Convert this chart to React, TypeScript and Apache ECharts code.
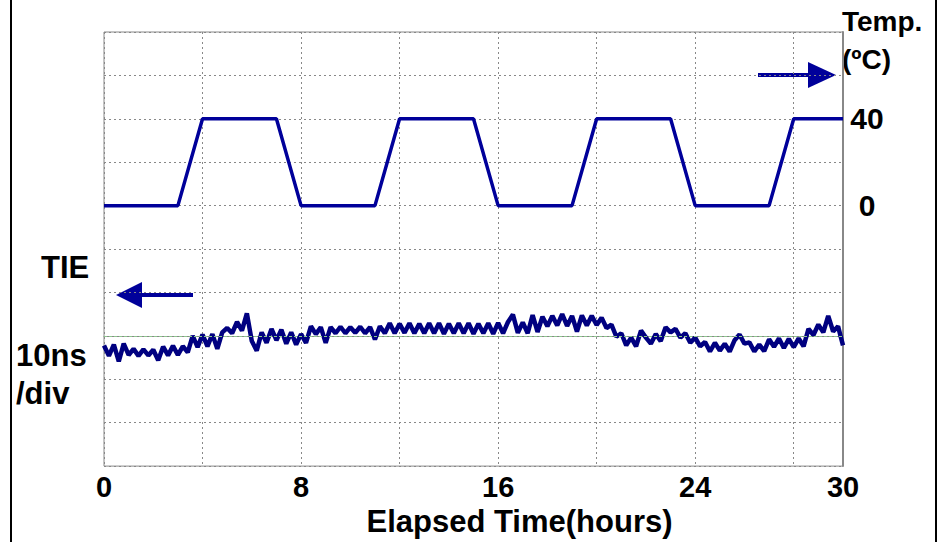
import React, { useEffect, useRef } from "react";
import * as echarts from "echarts";

// Temperature profile (right axis, °C) vs elapsed time (hours)
const tempTimes = [0, 3, 4, 7, 8, 11, 12, 15, 16, 19, 20, 23, 24, 27, 28, 30];
const tempValues = [0, 0, 40, 40, 0, 0, 40, 40, 0, 0, 40, 40, 0, 0, 40, 40];

// TIE trace (left axis, ns), sampled every 0.2 h
const TIE_STEP = 0.2;
const tieValues = [
  -2.2, -4.6, -2.0, -5.9, -1.8, -4.4, -3.0, -4.6, -3.1, -4.5,
  -3.2, -5.6, -2.5, -4.5, -2.3, -4.4, -2.4, -3.8, 0.0, -2.6,
  0.3, -2.4, 0.4, -3.0, 0.8, 1.8, 0.6, 3.2, 1.2, 5.2,
  -1.2, -3.4, 0.8, -1.6, 1.6, -1.0, 1.4, -1.8, 0.8, -2.0,
  0.4, -1.6, 2.2, 0.4, 2.0, -1.6, 2.0, 0.6, 2.1, 0.6,
  2.0, 0.7, 2.1, 0.6, 2.0, -0.8, 2.2, 0.6, 2.9, 0.6,
  2.8, 0.7, 2.9, 0.6, 2.8, 0.6, 2.9, 0.6, 2.9, 0.5,
  2.8, 0.6, 2.9, 0.6, 2.9, 0.5, 2.8, 0.6, 2.9, 0.5,
  3.0, 0.6, 3.2, 4.9, 0.7, 3.1, 0.6, 4.8, 0.9, 4.4,
  2.2, 4.6, 2.4, 5.0, 2.3, 4.6, 1.0, 4.7, 2.4, 4.6,
  2.5, 4.2, 1.8, 2.6, -0.2, 0.6, -2.2, -0.4, -2.4, 1.2,
  -0.4, -1.8, 0.4, -1.2, 2.0, 0.8, 1.6, -0.4, 0.6, -1.6,
  -0.4, -2.4, -1.4, -3.6, -1.6, -3.4, -1.8, -3.6, -1.0, 0.3,
  -1.8, -1.5, -3.6, -2.0, -3.5, -0.8, -2.5, -0.6, -2.8, -0.7,
  -2.6, -0.6, -2.4, 1.6, 0.2, 2.6, 0.8, 4.6, 1.0, 2.2,
  -2.2,
];

const xLabels = [0, 8, 16, 24, 30];
const tempLabels = [0, 40];

const FONT = "'Liberation Sans', Arial, sans-serif";
const NAVY = "#00009a";

export default function App() {
  const ref = useRef<HTMLDivElement>(null);
  useEffect(() => {
    if (!ref.current) return;
    const chart = echarts.init(ref.current, null, { renderer: "svg" });
    const textStyle = (text: string, x: number, y: number, size: number) => ({
      type: "text",
      x,
      y,
      style: {
        text,
        font: `bold ${size}px ${FONT}`,
        fill: "#000",
        textAlign: "left",
        textVerticalAlign: "middle",
      },
    });
    chart.setOption({
      animation: false,
      backgroundColor: "#fff",
      grid: {
        left: 104,
        right: 103,
        top: 32,
        bottom: 70,
        show: true,
        borderColor: "#888",
        borderWidth: 1,
      },
      xAxis: {
        type: "value",
        min: 0,
        max: 30,
        interval: 4,
        axisLine: { lineStyle: { color: "#888", width: 1 } },
        axisTick: { show: false },
        splitLine: { show: true, lineStyle: { color: "#888", type: [2, 3], width: 1 } },
        axisLabel: {
          margin: 6,
          color: "#000",
          fontSize: 29,
          fontWeight: "bold",
          fontFamily: FONT,
          showMaxLabel: true,
          formatter: (v: number) => (xLabels.includes(v) ? String(v) : ""),
        },
        name: "Elapsed Time(hours)",
        nameLocation: "middle",
        nameGap: 34,
        nameTextStyle: {
          color: "#000",
          fontSize: 31,
          fontWeight: "bold",
          fontFamily: FONT,
          padding: [0, 0, 0, 92],
        },
      },
      yAxis: [
        {
          type: "value",
          min: -30,
          max: 70,
          interval: 10,
          position: "left",
          axisLine: { show: false },
          axisTick: { show: false },
          axisLabel: { show: false },
          splitLine: { show: false },
        },
        {
          type: "value",
          min: -120,
          max: 80,
          interval: 20,
          position: "right",
          axisLine: { show: true, lineStyle: { color: "#888", width: 2 } },
          axisTick: { show: false },
          splitLine: { show: true, lineStyle: { color: "#888", type: [2, 3], width: 1 } },
          axisLabel: {
            margin: 24,
            align: "center",
            color: "#000",
            fontSize: 30,
            fontWeight: "bold",
            fontFamily: FONT,
            formatter: (v: number) => (tempLabels.includes(v) ? String(v) : ""),
          },
        },
      ],
      series: [
        {
          name: "TIE",
          type: "line",
          yAxisIndex: 0,
          showSymbol: false,
          data: tieValues.map((v, i) => [+(i * TIE_STEP).toFixed(1), v]),
          lineStyle: { color: "#000080", width: 4.5 },
          markLine: {
            silent: true,
            symbol: "none",
            label: { show: false },
            lineStyle: { color: "#8cc88c", type: [3, 2], width: 1 },
            data: [{ yAxis: 0 }],
          },
        },
        {
          name: "Temp",
          type: "line",
          yAxisIndex: 1,
          showSymbol: false,
          data: tempTimes.map((t, i) => [t, tempValues[i]]),
          lineStyle: { color: NAVY, width: 3.5 },
        },
      ],
      graphic: [
        { type: "line", shape: { x1: 11, y1: 0, x2: 11, y2: 542 }, style: { stroke: "#000", lineWidth: 2 } },
        { type: "line", shape: { x1: 936, y1: 0, x2: 936, y2: 542 }, style: { stroke: "#000", lineWidth: 2 } },
        // right arrow (temperature)
        { type: "line", shape: { x1: 758, y1: 75, x2: 812, y2: 75 }, style: { stroke: NAVY, lineWidth: 4 } },
        { type: "polygon", shape: { points: [[808, 62], [836, 75], [808, 88]] }, style: { fill: NAVY } },
        // left arrow (TIE)
        { type: "line", shape: { x1: 138, y1: 295, x2: 193, y2: 295 }, style: { stroke: NAVY, lineWidth: 4 } },
        { type: "polygon", shape: { points: [[116, 295], [142, 282], [142, 308]] }, style: { fill: NAVY } },
        textStyle("Temp.", 842, 21, 28),
        textStyle("(ºC)", 842, 59, 28),
        textStyle("TIE", 41, 267, 31),
        textStyle("10ns", 16, 355, 31),
        textStyle("/div", 16, 393, 31),
      ],
    });
    return () => chart.dispose();
  }, []);
  return (
    <div
      ref={ref}
      style={{ position: "fixed", left: 0, top: 0, width: 946, height: 542 }}
    />
  );
}
